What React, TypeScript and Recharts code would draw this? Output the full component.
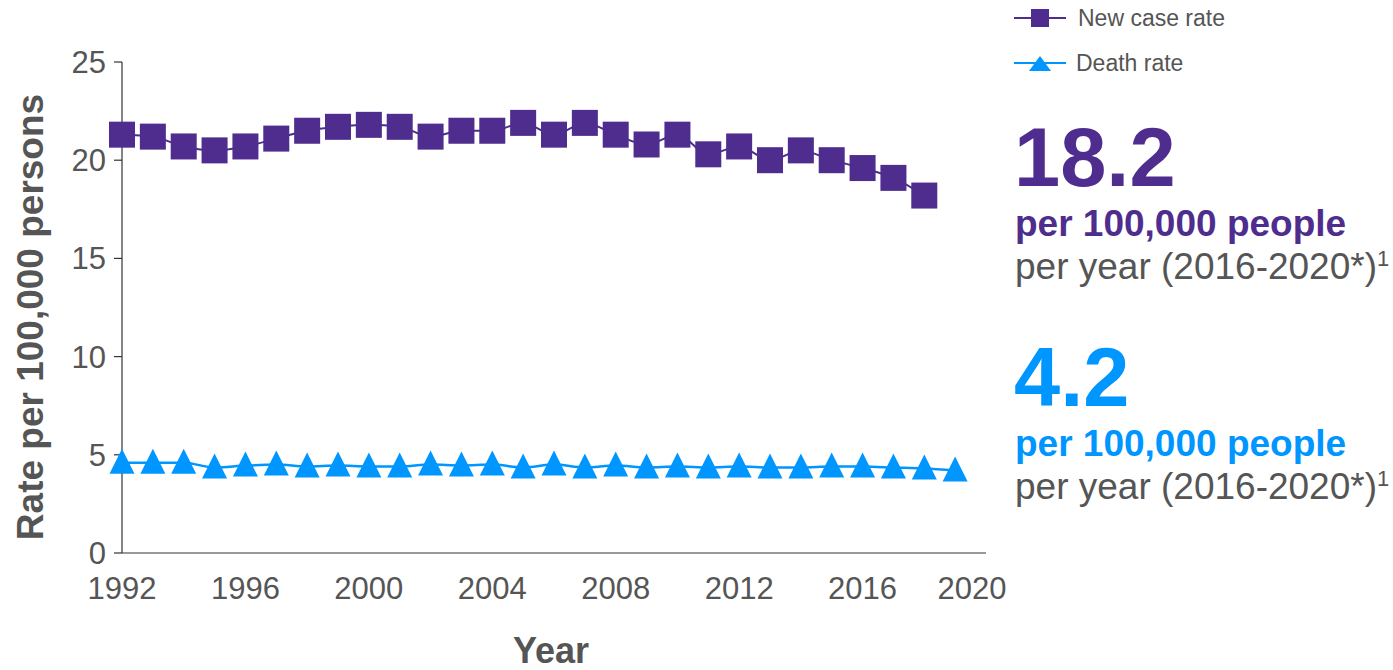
import { LineChart, Line, XAxis, YAxis, Legend } from 'recharts';

const FONT = '"Liberation Sans", Arial, Helvetica, sans-serif';
const PURPLE = '#4e2d8e';
const BLUE = '#0096ff';
const GREY = '#555555';

// Rates per 100,000 persons, 1992 onwards
const YEARS = [
  1992, 1993, 1994, 1995, 1996, 1997, 1998, 1999, 2000, 2001, 2002, 2003, 2004, 2005,
  2006, 2007, 2008, 2009, 2010, 2011, 2012, 2013, 2014, 2015, 2016, 2017, 2018, 2019
];
const NEW_CASE_RATE = [
  21.3, 21.2, 20.7, 20.5, 20.7, 21.1, 21.5, 21.7, 21.8, 21.7, 21.2, 21.5, 21.5, 21.9,
  21.3, 21.9, 21.3, 20.8, 21.3, 20.3, 20.7, 20.0, 20.5, 20.0, 19.6, 19.1, 18.2
];
const DEATH_RATE = [
  4.6, 4.6, 4.6, 4.35, 4.45, 4.5, 4.4, 4.45, 4.4, 4.4, 4.5, 4.45, 4.5, 4.35,
  4.5, 4.35, 4.45, 4.35, 4.4, 4.35, 4.4, 4.35, 4.35, 4.4, 4.4, 4.35, 4.3, 4.2
];
const X_TICKS = [1992, 1996, 2000, 2004, 2008, 2012, 2016, 2020];
const Y_TICKS = [0, 5, 10, 15, 20, 25];

const SERIES = [
  { key: 'newCase', name: 'New case rate', color: PURPLE, marker: 'square' },
  { key: 'death', name: 'Death rate', color: BLUE, marker: 'triangle' }
];

const chartData = YEARS.map((year, i) => ({
  year,
  newCase: NEW_CASE_RATE[i],
  death: DEATH_RATE[i]
}));

const SquareDot = (props: any) => {
  const { cx, cy, key } = props;
  if (cx == null || cy == null) return null;
  return <rect key={key} x={cx - 13} y={cy - 13} width={26} height={26} fill={PURPLE} />;
};

const TriangleDot = (props: any) => {
  const { cx, cy, key } = props;
  if (cx == null || cy == null) return null;
  return (
    <polygon
      key={key}
      points={`${cx},${cy - 14} ${cx + 12.5},${cy + 11} ${cx - 12.5},${cy + 11}`}
      fill={BLUE}
    />
  );
};

// last year label is pulled in so it stays inside the plot edge
const YearTick = ({ x, y, payload }: any) => (
  <text
    x={payload.value === 2020 ? x - 14 : x}
    y={y}
    dy="0.71em"
    textAnchor="middle"
    fill={GREY}
    fontSize={31}
    fontFamily={FONT}
  >
    {payload.value}
  </text>
);

const LegendContent = () => (
  <svg width={260} height={80} style={{ display: 'block' }}>
    {SERIES.map((s, i) => {
      const cy = 18 + i * 45;
      return (
        <g key={s.key}>
          <line x1={6} x2={58} y1={cy} y2={cy} stroke={s.color} strokeWidth={2} />
          {s.marker === 'square' ? (
            <rect x={23} y={cy - 9} width={18} height={18} fill={s.color} />
          ) : (
            <polygon points={`32,${cy - 7} 43,${cy + 8} 21,${cy + 8}`} fill={s.color} />
          )}
          <text x={i === 0 ? 70 : 68} y={cy + 8} fontSize={23} fill={GREY} fontFamily={FONT}>
            {s.name}
          </text>
        </g>
      );
    })}
  </svg>
);

const StatBlock = ({ value, color, top }: { value: string; color: string; top: number }) => (
  <g fontFamily={FONT}>
    <text x={1014} y={top} fontSize={83} fontWeight="bold" fill={color}>
      {value}
    </text>
    <text x={1015} y={top + 50} fontSize={37} fontWeight="bold" fill={color}>
      per 100,000 people
    </text>
    <text x={1015} y={top + 93} fontSize={37} fill={GREY}>
      per year (2016-2020*)
      <tspan fontSize={22} dy={-13}>1</tspan>
    </text>
  </g>
);

export default function App() {
  return (
    <div style={{ position: 'absolute', left: 0, top: 0, width: 1393, height: 670, background: '#fff' }}>
      <LineChart
        width={1393}
        height={670}
        data={chartData}
        margin={{ top: 62, right: 407, left: 0, bottom: 0 }}
      >
        <XAxis
          dataKey="year"
          type="number"
          domain={[1992, 2020]}
          ticks={X_TICKS}
          tickLine={false}
          tickSize={0}
          tickMargin={24}
          height={117}
          axisLine={{ stroke: '#333', strokeWidth: 1.2 }}
          tick={<YearTick />}
        />
        <YAxis
          type="number"
          domain={[0, 25]}
          ticks={Y_TICKS}
          width={122}
          tickSize={8}
          tickMargin={8}
          axisLine={{ stroke: '#333', strokeWidth: 1.2 }}
          tickLine={{ stroke: '#333', strokeWidth: 1.2 }}
          tick={{ fontSize: 31, fill: GREY, fontFamily: FONT }}
        />
        <Legend
          layout="vertical"
          align="center"
          verticalAlign="middle"
          wrapperStyle={{ left: 1008, top: 0, width: 260 }}
          content={<LegendContent />}
        />
        <Line
          type="monotone"
          dataKey="newCase"
          name="New case rate"
          stroke={PURPLE}
          strokeWidth={2}
          dot={SquareDot}
          activeDot={false}
          isAnimationActive={false}
        />
        <Line
          type="monotone"
          dataKey="death"
          name="Death rate"
          stroke={BLUE}
          strokeWidth={2.5}
          dot={TriangleDot}
          activeDot={false}
          isAnimationActive={false}
        />
      </LineChart>

      <svg
        width={1393}
        height={670}
        style={{ position: 'absolute', left: 0, top: 0, pointerEvents: 'none' }}
      >
        <text
          transform="translate(43, 317) rotate(-90)"
          textAnchor="middle"
          fontSize={37}
          fontWeight="bold"
          fill={GREY}
          fontFamily={FONT}
        >
          Rate per 100,000 persons
        </text>
        <text
          x={551}
          y={663}
          textAnchor="middle"
          fontSize={36}
          fontWeight="bold"
          fill={GREY}
          fontFamily={FONT}
        >
          Year
        </text>
        <StatBlock value="18.2" color={PURPLE} top={186} />
        <StatBlock value="4.2" color={BLUE} top={406} />
      </svg>
    </div>
  );
}
